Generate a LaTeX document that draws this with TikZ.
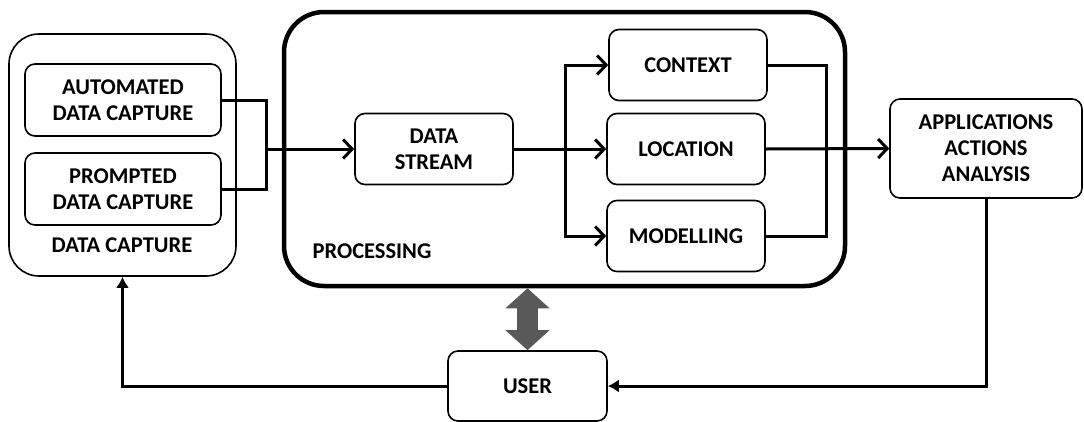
\documentclass[tikz,border=0pt]{standalone}
\usepackage{fontspec}
\setmainfont{Carlito}
\usetikzlibrary{arrows.meta}

\tikzset{
  box/.style={draw, line width=1.6pt, rounded corners=10pt, align=center,
    inner sep=0pt, font=\bfseries\fontsize{22.5}{26}\selectfont},
  link/.style={line width=3pt},
  openarrow/.style={link, -{Straight Barb[length=9pt,width=19pt]}},
  fillarrow/.style={link, -{Latex[length=11pt,width=13pt]}},
}

\begin{document}
\begin{tikzpicture}[x=1pt,y=-1pt]
  \useasboundingbox (0,0) rectangle (1084,421);

  % Capture
  \node[box, rounded corners=30pt, minimum width=227pt, minimum height=242pt] (dc) at (122.5,155) {};
  \node[box, minimum width=196pt, minimum height=72pt] (auto) at (123,100) {AUTOMATED\\DATA CAPTURE};
  \node[box, minimum width=196pt, minimum height=72pt] (prompt) at (123,189) {PROMPTED\\DATA CAPTURE};
  \node[font=\bfseries\fontsize{22.5}{26}\selectfont] (dclabel) at (122,245) {DATA CAPTURE};

  % Processing
  \node[box, line width=4.5pt, rounded corners=40pt, minimum width=561pt, minimum height=274pt] (proc) at (564.5,149) {};
  \node[font=\bfseries\fontsize{22.5}{26}\selectfont] (proclabel) at (372,251) {PROCESSING};
  \node[box, minimum width=158pt, minimum height=71pt] (ds) at (434,149) {DATA\\STREAM};
  \node[box, minimum width=158pt, minimum height=71pt] (ctx) at (688,65) {CONTEXT};
  \node[box, minimum width=158pt, minimum height=71pt] (loc) at (686,149) {LOCATION};
  \node[box, minimum width=158pt, minimum height=71pt] (mod) at (686,236) {MODELLING};

  % Output and user
  \node[box, minimum width=192pt, minimum height=99pt] (apps) at (986,148.5) {APPLICATIONS\\ACTIONS\\ANALYSIS};
  \node[box, minimum width=159pt, minimum height=70pt] (user) at (527.5,386) {USER};

  % Links
  \draw[link] (auto.east) -- (266,100) |- (prompt.east);
  \draw[openarrow] (266,149) -- (ds.west);
  \draw[openarrow] (ds.east) -- (loc.west);
  \draw[openarrow] (565,149) |- (ctx.west);
  \draw[openarrow] (565,149) |- (mod.west);
  \draw[link] (ctx.east) -- (826,65) |- (mod.east);
  \draw[openarrow] (loc.east) -- (apps.west);
  \draw[fillarrow] (apps.south) |- (user.east);
  \draw[fillarrow] (user.west) -| (dc.south);

  % Interaction
  \draw[line width=21pt, color={rgb,255:red,89;green,89;blue,89},
    {Triangle[length=20pt,width=43pt]}-{Triangle[length=20pt,width=43pt]}]
    (user.north |- proc.south) -- (user.north);
\end{tikzpicture}
\end{document}
